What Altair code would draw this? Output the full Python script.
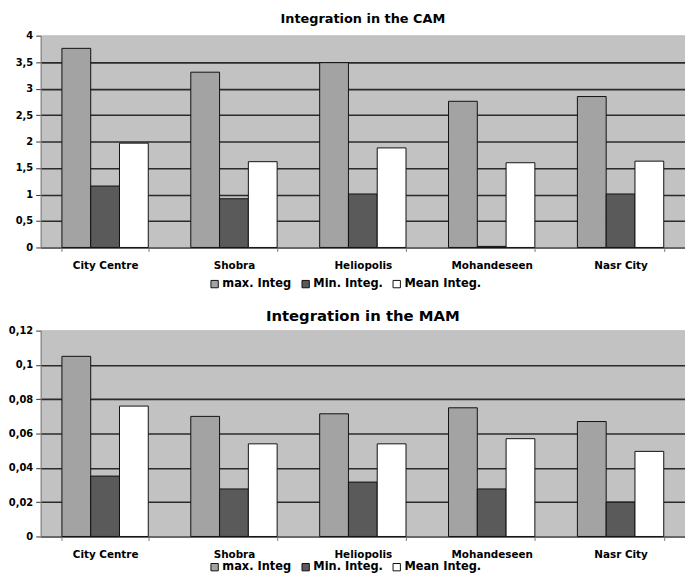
import altair as alt
import pandas as pd

categories = ["City Centre", "Shobra", "Heliopolis", "Mohandeseen", "Nasr City"]
series = ["max. Integ", "Min. Integ.", "Mean Integ."]

cam_max = [3.76, 3.31, 3.49, 2.76, 2.85]
cam_min = [1.16, 0.92, 1.01, 0.02, 1.01]
cam_mean = [1.97, 1.62, 1.88, 1.60, 1.63]

mam_max = [0.105, 0.070, 0.0715, 0.075, 0.067]
mam_min = [0.0352, 0.0277, 0.0317, 0.0277, 0.020]
mam_mean = [0.076, 0.054, 0.054, 0.057, 0.0496]

colors = ["#a3a3a3", "#5a5a5a", "#ffffff"]

cam_ticks = [0, 0.5, 1, 1.5, 2, 2.5, 3, 3.5, 4]
mam_ticks = [0, 0.02, 0.04, 0.06, 0.08, 0.1, 0.12]


def make_df(mx, mn, me):
    rows = []
    for i, c in enumerate(categories):
        for s, vals in zip(series, [mx, mn, me]):
            rows.append({"category": c, "series": s, "value": vals[i]})
    return pd.DataFrame(rows)


FONT = "DejaVu Sans"


def panel(df, title, ticks, top, height, title_size, title_offset, legend_y, label_pad):
    grid_cond = {"condition": {"test": f"datum.value == {top}", "value": "#c0c0c0"}, "value": "#2a2a2a"}
    return alt.Chart(df).mark_bar(stroke="#111111", strokeWidth=1).encode(
        x=alt.X("category:N", sort=categories, title=None,
                scale=alt.Scale(paddingInner=0.33, paddingOuter=0.165),
                axis=alt.Axis(labelAngle=0, tickBand="extent", tickSize=4, labelPadding=label_pad,
                              labelFont=FONT, labelFontWeight="bold", labelFontSize=10.5,
                              labelColor="#000", domainColor="#777", tickColor="#777", grid=False)),
        xOffset=alt.XOffset("series:N", sort=series, scale=alt.Scale(paddingInner=0, paddingOuter=0)),
        y=alt.Y("value:Q", title=None,
                scale=alt.Scale(domain=[0, top], nice=False, zero=True),
                axis=alt.Axis(values=ticks, tickSize=5, labelPadding=3,
                              labelExpr="replace(format(datum.value, ''), '.', ',')",
                              labelFont=FONT, labelFontWeight="bold", labelFontSize=10,
                              labelColor="#000", domainColor="#777", tickColor="#333",
                              grid=True, gridColor=grid_cond, gridWidth=1.6)),
        color=alt.Color("series:N", sort=series, title=None,
                        scale=alt.Scale(domain=series, range=colors),
                        legend=alt.Legend(orient="none", legendX=170, legendY=legend_y,
                                          direction="horizontal",
                                          symbolType="square", symbolSize=55,
                                          symbolStrokeColor="#111", symbolStrokeWidth=1,
                                          labelFont=FONT, labelFontWeight="bold", labelFontSize=11.5,
                                          labelColor="#000", columnPadding=8, symbolOffset=0,
                                          labelOffset=2, padding=0)),
    ).properties(
        width=651, height=height,
        title=alt.Title(title, font=FONT, fontWeight="bold", fontSize=title_size, color="#000",
                        anchor="middle", offset=title_offset),
    )


top = panel(make_df(cam_max, cam_min, cam_mean), "Integration in the CAM", cam_ticks, 4, 214, 13, 5, 245, 9)
bottom = panel(make_df(mam_max, mam_min, mam_mean), "Integration in the MAM", mam_ticks, 0.12, 208, 15, 2, 233, 9)

chart = alt.vconcat(top, bottom, spacing=19).resolve_scale(color="independent").properties(
    padding={"left": 0, "top": 2, "right": 0, "bottom": 0},
    background="white",
).configure_view(fill="#c2c2c2", stroke=None)

chart.save("out.html", embed_options={"renderer": "svg", "actions": False})
